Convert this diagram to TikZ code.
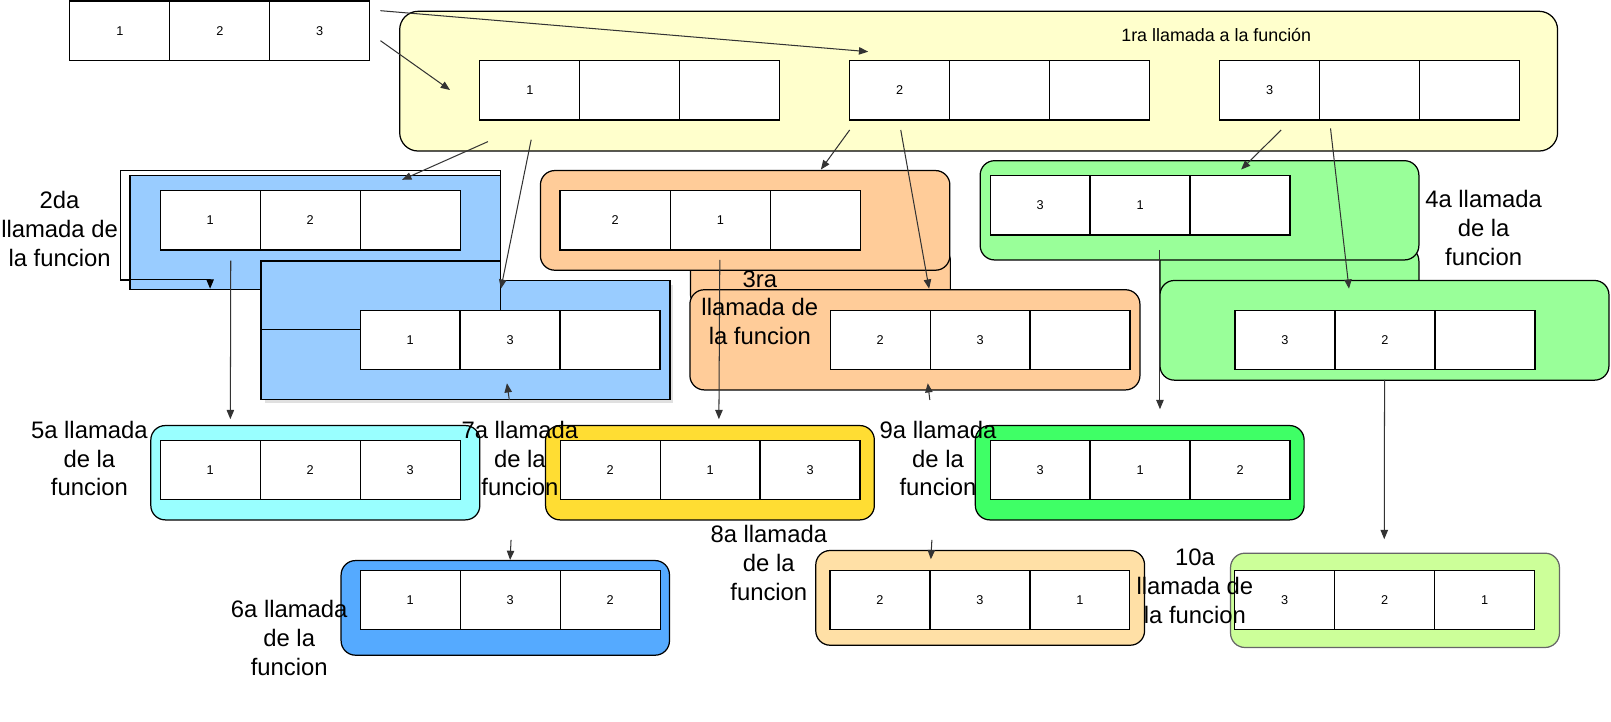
\documentclass[tikz,border=0pt]{standalone}
\usepackage{fontspec}
\setmainfont{Liberation Sans}
\usetikzlibrary{positioning,arrows.meta}

\definecolor{amarillo}{HTML}{FFFFCC}
\definecolor{azul}{HTML}{99CCFF}
\definecolor{naranja}{HTML}{FFCC99}
\definecolor{verde}{HTML}{99FF99}
\definecolor{celeste}{HTML}{99FFFF}
\definecolor{oro}{HTML}{FFDD33}
\definecolor{verdefuerte}{HTML}{3FFF66}
\definecolor{azulfuerte}{HTML}{55AAFF}
\definecolor{crema}{HTML}{FFE0A6}
\definecolor{lima}{HTML}{CCFF99}

\tikzset{
  celda/.style={draw, fill=white, line width=0.6pt, minimum width=48.65pt, minimum height=28.85pt,
    inner sep=0pt, outer sep=0pt, font=\fontsize{6.2}{7}\selectfont},
  caja/.style={draw, line width=0.6pt, rounded corners=7pt},
  marco/.style={draw, line width=0.6pt},
  etiqueta/.style={align=center, inner sep=0pt, font=\fontsize{11.6}{14}\selectfont},
  flecha/.style={-{Triangle[length=4.5pt,width=3.6pt]}, line width=0.5pt, black!80},
}

\newcommand{\fila}[5]{%
  \node[celda, anchor=north west] (#1-1) at (#2) {#3};
  \node[celda, right=0pt of #1-1] (#1-2) {#4};
  \node[celda, right=0pt of #1-2] (#1-3) {#5};
}

\begin{document}
\begin{tikzpicture}[x=0.5pt, y=-0.5pt]
\useasboundingbox (0,0) rectangle (1568,702);

\fila{t}{68,1}{1}{2}{3}

\draw[caja, rounded corners=9pt, fill=amarillo] (389,11) rectangle (1516,147);
\fila{ya}{467,59}{1}{}{}
\fila{yb}{827,59}{2}{}{}
\fila{yc}{1187,59}{3}{}{}
\node[anchor=base west, inner sep=0pt, font=\fontsize{8.7}{10}\selectfont] (l1) at (1091,40.6) {1ra llamada a la función};

% 2da llamada
\draw[marco, fill=white] (117,166) rectangle (487,272.5);
\draw[marco, fill=azul] (126.5,170.5) rectangle (487,282);
\fila{b1}{156,185.6}{1}{2}{}
\fill[black!12] (258,277) rectangle (655.5,392.5);
\draw[marco, fill=azul] (254,273) rectangle (652,389);
\draw[marco, fill=azul] (254,254) rectangle (487,321);
\fila{b2}{350.5,302}{1}{3}{}

% 3ra llamada
\draw[caja, fill=naranja] (672,240) rectangle (925,300);
\draw[caja, fill=naranja] (526,166) rectangle (924.5,263);
\node[celda, anchor=north west, minimum width=53.8pt] (n1-1) at (545,185.6) {2};
\node[celda, right=0pt of n1-1] (n1-2) {1};
\node[celda, right=0pt of n1-2, minimum width=43.75pt] (n1-3) {};
\draw[caja, fill=naranja] (671.5,282) rectangle (1109.5,379.5);
\fila{n2}{808,302}{2}{3}{}

% 4a llamada
\draw[caja, fill=verde] (1129,240) rectangle (1381,300);
\draw[caja, fill=verde] (954,156.4) rectangle (1381,253);
\fila{v1}{963.7,171}{3}{1}{}
\draw[caja, fill=verde] (1129,273) rectangle (1566,370);
\fila{v2}{1202,302.3}{3}{2}{}

\draw[caja, fill=celeste] (146.8,414.2) rectangle (467,506);
\fila{c5}{156,428.8}{1}{2}{3}
\draw[caja, fill=oro] (531,414.2) rectangle (851,506);
\fila{c7}{545.2,428.8}{2}{1}{3}
\draw[caja, fill=verdefuerte] (949.3,414.2) rectangle (1269.3,506);
\fila{c9}{963.7,428.8}{3}{1}{2}
\draw[caja, fill=azulfuerte] (332,545.6) rectangle (651.6,637.7);
\fila{c6}{350.6,555.3}{1}{3}{2}
\draw[caja, fill=crema] (794,535.8) rectangle (1114,628);
\fila{c8}{807.8,555.3}{2}{3}{1}
\draw[caja, draw=black!60, fill=lima] (1197.7,538.4) rectangle (1517.8,630.2);
\fila{c10}{1201.8,555.3}{3}{2}{1}

\coordinate (s1) at (370.3,10.4);  \coordinate (e1) at (845,50.3);
\coordinate (s2) at (370.3,39.6);  \coordinate (e2) at (438,87.6);
\coordinate (s3) at (475,137.8);   \coordinate (e3) at (391.4,175);
\coordinate (s4) at (517,136);     \coordinate (e4) at (487.5,281);
\coordinate (s5) at (827,126.5);   \coordinate (e5) at (799,165);
\coordinate (s6) at (876.7,126.5); \coordinate (e6) at (904.3,281);
\coordinate (s7) at (1247,126.5);  \coordinate (e7) at (1208,165);
\coordinate (s8) at (1295,125);    \coordinate (e8) at (1313,281);
\coordinate (s9) at (224.6,253.7); \coordinate (e9) at (224.2,408);
\coordinate (s10) at (700.6,253);  \coordinate (e10) at (699.7,408);
\coordinate (s11) at (1129,243.3); \coordinate (e11) at (1129,398.3);
\coordinate (s12) at (1347.6,369.8); \coordinate (e12) at (1347.3,524.8);
\coordinate (s13) at (497.4,525.5); \coordinate (e13) at (496.5,545);
\coordinate (s14) at (907,525.5);  \coordinate (e14) at (906,544.3);
\coordinate (s15) at (495.7,389.3); \coordinate (e15) at (493.4,373);
\coordinate (s16) at (905,389.3);  \coordinate (e16) at (903,373);
\coordinate (s17) at (117,272.5);  \coordinate (e17) at (204.5,281);

\begin{scope}[flecha]
\draw (s1) -- (e1);
\draw (s2) -- (e2);
\draw (s3) -- (e3);
\draw (s4) -- (e4);
\draw (s5) -- (e5);
\draw (s6) -- (e6);
\draw (s7) -- (e7);
\draw (s8) -- (e8);
\draw (s9) -- (e9);
\draw (s10) -- (e10);
\draw (s11) -- (e11);
\draw (s12) -- (e12);
\draw (s13) -- (e13);
\draw (s14) -- (e14);
\draw (s15) -- (e15);
\draw (s16) -- (e16);
\draw[black] (s17) -| (e17);
\end{scope}

\node[etiqueta] (l2) at (58,223) {2da\\llamada de\\la funcion};
\node[etiqueta] (l3) at (739.5,299.5) {3ra\\llamada de\\la funcion};
\node[etiqueta] (l4) at (1444,222) {4a llamada\\de la\\funcion};
\node[etiqueta] (l5) at (87,446.3) {5a llamada\\de la\\funcion};
\node[etiqueta] (l6) at (281.5,620.8) {6a llamada\\de la\\funcion};
\node[etiqueta] (l7) at (506,446.3) {7a llamada\\de la\\funcion};
\node[etiqueta] (l8) at (748.3,547.8) {8a llamada\\de la\\funcion};
\node[etiqueta] (l9) at (913,446.3) {9a llamada\\de la\\funcion};
\node[etiqueta] (l10) at (1163,570.5) {10a\\llamada de\\la funcion};

\end{tikzpicture}
\end{document}
